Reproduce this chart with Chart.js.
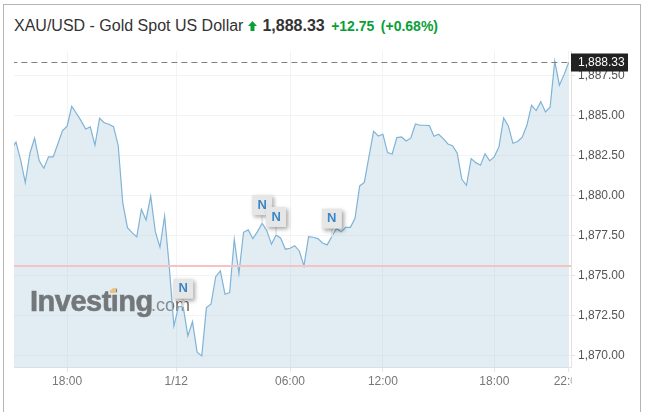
<!DOCTYPE html>
<html>
<head>
<meta charset="utf-8">
<title>XAU/USD</title>
<script src="https://cdn.jsdelivr.net/npm/chart.js@4/dist/chart.umd.min.js"></script>
<style>
  html, body { margin: 0; padding: 0; background: #fff; overflow: hidden; }
  body { width: 645px; height: 412px; position: relative; font-family: "Liberation Sans", Arial, sans-serif; }
  #frame { position: absolute; left: 3px; top: 4px; width: 636px; height: 420px; border: 1px solid #b5b5b5; border-width: 1px 1px 0 1px; }
  #head { position: absolute; left: 14px; top: 16px; white-space: nowrap; line-height: 20px; color: #333; }
  #head .name { font-size: 16px; }
  #head svg { position: absolute; left: 234px; top: 5px; }
  #head .last { font-size: 16px; font-weight: bold; color: #333; margin-left: 19px; }
  #head .chg { font-size: 14px; font-weight: bold; color: #0a9f38; margin-left: 2px; }
  canvas { position: absolute; left: 0; top: 0; }
</style>
</head>
<body>
<div id="frame"></div>
<div id="head">
  <span class="name">XAU/USD - Gold Spot US Dollar</span><svg width="9" height="10"><polygon points="4.5,0 9,5 6.5,5 6.5,10 2.5,10 2.5,5 0,5" fill="#0a9f38"/></svg><span class="last">1,888.33</span>
  <span class="chg">+12.75</span>
  <span class="chg">(+0.68%)</span>
</div>
<canvas id="myChart" width="645" height="412"></canvas>

<script>
// prices, one every 4.645px (first one sits just left of the plot)
const prices = [
  1882.95, 1883.34, 1882.23, 1880.81, 1882.65, 1883.59, 1882.17, 1881.71, 1882.42, 1882.42,
  1883.23, 1884.05, 1884.34, 1885.59, 1885.15, 1884.69, 1884.17, 1884.30, 1883.15, 1884.84,
  1884.56, 1884.46, 1884.31, 1883.15, 1879.52, 1877.99, 1877.68, 1877.41, 1879.14, 1878.47,
  1879.97, 1877.74, 1876.76, 1878.72, 1875.55, 1871.83, 1873.04, 1873.04, 1871.21, 1872.10,
  1870.19, 1869.96, 1872.98, 1873.21, 1874.92, 1875.28, 1873.82, 1873.92, 1877.26, 1875.12,
  1877.70, 1877.85, 1877.30, 1877.74, 1878.27, 1877.80, 1876.95, 1877.53, 1877.33, 1876.64,
  1876.70, 1876.86, 1876.53, 1875.59, 1877.43, 1877.39, 1877.30, 1877.03, 1876.91, 1877.43,
  1877.93, 1877.74, 1878.01, 1878.01, 1878.58, 1880.60, 1880.82, 1882.44, 1884.03, 1883.73,
  1883.84, 1882.69, 1882.60, 1883.63, 1883.67, 1883.42, 1883.59, 1884.48, 1884.40, 1884.40,
  1884.38, 1883.71, 1883.84, 1883.56, 1883.23, 1883.12, 1882.65, 1881.02, 1880.64, 1882.31,
  1882.06, 1881.90, 1882.62, 1882.17, 1882.44, 1883.06, 1884.86, 1884.36, 1883.27, 1883.38,
  1883.65, 1884.40, 1885.65, 1885.32, 1885.88, 1885.23, 1885.53, 1888.41, 1886.91, 1887.57,
  1888.33
]
const firstIndex = -1
const lastPrice = 1888.33
const prevClose = 1875.59
const lastLabel = "1,888.33"

const xTickPos = [11, 34.5, 59, 79, 103, 119]
const xTickLabels = ["18:00", "1/12", "06:00", "12:00", "18:00", "22:00"]
const yTickValues = [1870, 1872.5, 1875, 1877.5, 1880, 1882.5, 1885, 1887.5]
const newsAt = [36, 53, 56, 68]

const font = '"Liberation Sans", Arial, sans-serif'
const xy = prices.map((p, i) => ({ x: i + firstIndex, y: p }))

// watermark goes under the line, colours are darker because the fill tints them
const watermark = {
  id: "watermark",
  beforeDatasetsDraw(chart) {
    const c = chart.ctx
    c.save()
    c.textBaseline = "alphabetic"
    c.fillStyle = "#5c504a"
    c.strokeStyle = "#5c504a"
    c.lineWidth = 0.6
    c.font = "bold 29px " + font
    c.letterSpacing = "-0.5px"
    c.fillText("Investing", 30, 311)
    c.strokeText("Investing", 30, 311)
    c.letterSpacing = "0px"
    c.fillStyle = "#7a7068"
    c.font = "18px " + font
    c.fillText(".com", 151, 311)
    c.restore()
  }
}

// news flags and the last price box
const overlays = {
  id: "overlays",
  afterDraw(chart) {
    const c = chart.ctx
    const sx = chart.scales.x
    const sy = chart.scales.y
    c.save()
    c.fillStyle = "#eec27c"
    c.beginPath()
    c.moveTo(110, 290); c.lineTo(116, 288); c.lineTo(116, 293); c.lineTo(110, 293)
    c.fill()
    newsAt.forEach(function(idx) {
      const px = sx.getPixelForValue(idx)
      const py = sy.getPixelForValue(prices[idx - firstIndex])
      c.fillStyle = "#e8e8e8"
      c.fillRect(px - 1, py - 9, 2, 9)
      c.shadowColor = "rgba(0,0,0,0.35)"
      c.shadowBlur = 4
      c.shadowOffsetX = 2
      c.shadowOffsetY = 2
      c.fillStyle = "#e6e6e6"
      c.fillRect(px - 10, py - 28, 20, 20)
      c.shadowColor = "transparent"
      c.fillStyle = "#3a87c8"
      c.font = "bold 13px " + font
      c.textAlign = "center"
      c.textBaseline = "middle"
      c.fillText("N", px, py - 18)
    })
    const ly = sy.getPixelForValue(lastPrice)
    c.fillStyle = "#222"
    c.fillRect(571, ly - 9, 57, 18)
    c.fillStyle = "#fff"
    c.font = "12px " + font
    c.textAlign = "left"
    c.textBaseline = "middle"
    c.fillText(lastLabel, 578, ly + 0.5)
    // last x label is cut off at the edge of the plot
    c.fillStyle = "#fff"
    c.fillRect(571.5, 372, 30, 22)
    c.restore()
  }
}

const myChart = new Chart(document.getElementById("myChart"), {
  type: "line",
  data: {
    datasets: [
      {
        data: xy,
        borderColor: "#7fb3d7",
        borderWidth: 1.2,
        backgroundColor: "rgba(165,200,220,0.33)",
        fill: "start",
        pointRadius: 0,
        tension: 0,
        order: 2
      },
      {
        data: [{ x: -1, y: prevClose }, { x: 120, y: prevClose }],
        borderColor: "#f6c3c4",
        borderWidth: 2,
        pointRadius: 0,
        order: 1
      },
      {
        data: [{ x: -1, y: lastPrice }, { x: 119, y: lastPrice }],
        borderColor: "#808080",
        borderWidth: 1.2,
        borderDash: [6, 4],
        pointRadius: 0,
        order: 0
      }
    ]
  },
  options: {
    responsive: false,
    animation: false,
    layout: { padding: { left: 14, top: 51, right: 0, bottom: 0 } },
    plugins: { legend: { display: false }, tooltip: { enabled: false } },
    scales: {
      x: {
        type: "linear",
        min: -0.43,
        max: 119.5,
        afterBuildTicks(scale) {
          scale.ticks = xTickPos.map(v => ({ value: v }))
        },
        afterFit(scale) { scale.height = 44.3 },
        grid: { color: "#f3f3f3", tickColor: "#dfe5e9", tickLength: 4 },
        border: { color: "#dfe6ea" },
        ticks: {
          autoSkip: false,
          maxRotation: 0,
          padding: 3,
          color: "#777",
          font: { family: font, size: 12 },
          callback(value) { return xTickLabels[xTickPos.indexOf(value)] }
        }
      },
      y: {
        position: "right",
        min: 1869.22,
        max: 1889.05,
        afterBuildTicks(scale) {
          scale.ticks = yTickValues.map(v => ({ value: v }))
        },
        afterFit(scale) { scale.width = 74 },
        grid: { color: "#f3f3f3", tickColor: "#e2e2e2", tickLength: 4 },
        border: { color: "#e2e2e2" },
        ticks: {
          padding: 3,
          color: "#555",
          font: { family: font, size: 12 },
          callback(value) {
            return value.toLocaleString("en-US", { minimumFractionDigits: 2, maximumFractionDigits: 2 })
          }
        }
      }
    }
  },
  plugins: [watermark, overlays]
})
</script>
</body>
</html>
